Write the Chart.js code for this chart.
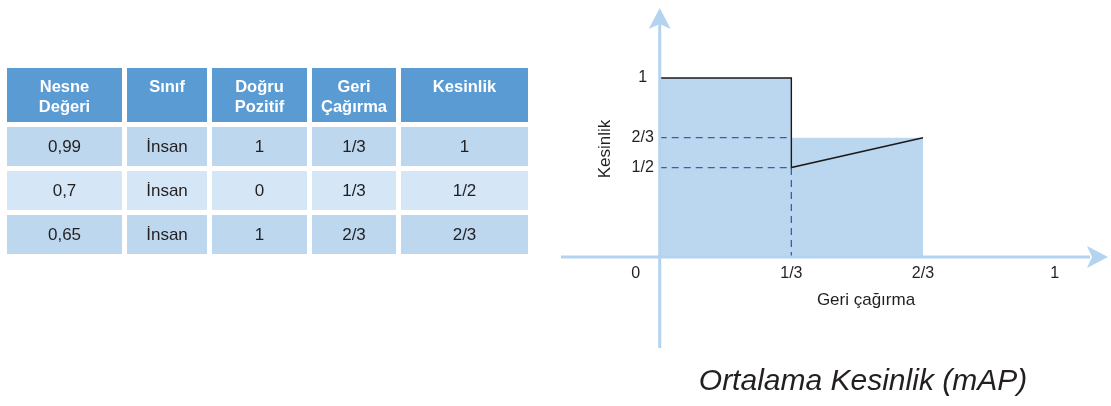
<!DOCTYPE html>
<html>
<head>
<meta charset="utf-8">
<script src="https://cdn.jsdelivr.net/npm/chart.js@4"></script>
<style>
  html, body { margin: 0; padding: 0; background: #fff; }
  #wrap { position: relative; width: 1111px; height: 406px; overflow: hidden; }
  #myChart { position: absolute; left: 0; top: 0; }
  table {
    position: absolute; left: 2px; top: 63px;
    border-collapse: separate; border-spacing: 5px 5px;
    font-family: "Liberation Sans", Arial, sans-serif;
  }
  th {
    background: #5b9bd4; color: #fff; font-weight: bold; font-size: 16.5px;
    line-height: 20px; height: 54px; padding: 8px 0 0 0; box-sizing: border-box;
    vertical-align: top; text-align: center;
  }
  td {
    font-size: 17px; color: #231f20; text-align: center; height: 39px; padding: 0;
  }
  tr.odd td { background: #bdd7ee; }
  tr.even td { background: #d5e7f6; }
</style>
</head>
<body>
<div id="wrap">
  <canvas id="myChart" width="1111" height="406"></canvas>
  <table id="tbl"></table>
</div>
<script>
const headers = ["Nesne<br>Değeri", "Sınıf", "Doğru<br>Pozitif", "Geri<br>Çağırma", "Kesinlik"];
const colWidths = [115, 80, 95, 84, 127];
const scores = ["0,99", "0,7", "0,65"];
const classes = ["İnsan", "İnsan", "İnsan"];
const truePositive = [1, 0, 1];
const recallLabels = ["1/3", "1/3", "2/3"];
const precisionLabels = ["1", "1/2", "2/3"];

const recall = [1 / 3, 1 / 3, 2 / 3];
const precision = [1, 1 / 2, 2 / 3];
const interpPrecision = [1, 2 / 3, 2 / 3];

const xTickValues = [0, 1 / 3, 2 / 3, 1];
const xTickLabels = ["0", "1/3", "2/3", "1"];
const yTickValues = [1, 2 / 3, 1 / 2];
const yTickLabels = ["1", "2/3", "1/2"];

// table
const tbl = document.getElementById("tbl");
let html = "<tr>";
headers.forEach((h, i) => {
  html += `<th style="width:${colWidths[i]}px">${h}</th>`;
});
html += "</tr>";
scores.forEach((s, i) => {
  html += `<tr class="${i % 2 === 0 ? "odd" : "even"}">`;
  html += `<td>${s}</td><td>${classes[i]}</td><td>${truePositive[i]}</td>`;
  html += `<td>${recallLabels[i]}</td><td>${precisionLabels[i]}</td></tr>`;
});
tbl.innerHTML = html;

// curve points
const curve = [{ x: 0, y: precision[0] }].concat(
  recall.map((r, i) => ({ x: r, y: precision[i] }))
);
const area = [{ x: 0, y: interpPrecision[0] }].concat(
  recall.map((r, i) => ({ x: r, y: interpPrecision[i] }))
);
const guides = [
  { x: 0, y: interpPrecision[1] },
  { x: recall[1], y: interpPrecision[1] },
  { x: recall[1], y: null },
  { x: 0, y: precision[1] },
  { x: recall[1], y: precision[1] },
  { x: recall[1], y: 0 },
];

const AXIS_COLOR = "#b3d3f1";
const FONT = "'Liberation Sans', Arial, sans-serif";

const axesPlugin = {
  id: "axes",
  afterDatasetsDraw(chart) {
    const { ctx, chartArea, scales } = chart;
    const x0 = scales.x.getPixelForValue(0);
    const y0 = scales.y.getPixelForValue(0);
    ctx.save();
    ctx.strokeStyle = AXIS_COLOR;
    ctx.fillStyle = AXIS_COLOR;
    ctx.lineWidth = 3;
    ctx.beginPath();
    ctx.moveTo(x0, chartArea.bottom);
    ctx.lineTo(x0, chartArea.top + 12);
    ctx.moveTo(chartArea.left, y0);
    ctx.lineTo(chartArea.right - 12, y0);
    ctx.stroke();
    // arrow up
    ctx.beginPath();
    ctx.moveTo(x0, chartArea.top - 2);
    ctx.lineTo(x0 + 11, chartArea.top + 19);
    ctx.lineTo(x0, chartArea.top + 14);
    ctx.lineTo(x0 - 11, chartArea.top + 19);
    ctx.closePath();
    ctx.fill();
    // arrow right
    const xr = chartArea.right + 6;
    ctx.beginPath();
    ctx.moveTo(xr, y0);
    ctx.lineTo(xr - 21, y0 - 11);
    ctx.lineTo(xr - 16, y0);
    ctx.lineTo(xr - 21, y0 + 11);
    ctx.closePath();
    ctx.fill();

    // tick labels
    ctx.fillStyle = "#231f20";
    ctx.font = "16px " + FONT;
    ctx.textAlign = "center";
    ctx.textBaseline = "middle";
    xTickValues.forEach((v, i) => {
      let px = scales.x.getPixelForValue(v);
      if (v === 0) px -= 24;
      ctx.fillText(xTickLabels[i], px, y0 + 17);
    });
    yTickValues.forEach((v, i) => {
      ctx.fillText(yTickLabels[i], x0 - 17, scales.y.getPixelForValue(v));
    });

    // axis titles
    ctx.font = "17px " + FONT;
    ctx.fillText("Geri çağırma", 866, y0 + 43);
    ctx.save();
    ctx.translate(605, 149);
    ctx.rotate(-Math.PI / 2);
    ctx.fillText("Kesinlik", 0, 0);
    ctx.restore();

    // title
    ctx.font = "italic 30px " + FONT;
    ctx.textBaseline = "alphabetic";
    ctx.fillText("Ortalama Kesinlik (mAP)", 863, 390);
    ctx.restore();
  },
};

const ctx = document.getElementById("myChart");

new Chart(ctx, {
  type: "line",
  data: {
    datasets: [
      {
        label: "Enterpolasyonlu kesinlik",
        data: area,
        order: 3,
        fill: "origin",
        backgroundColor: "#bbd7f0",
        borderWidth: 0,
        pointRadius: 0,
        tension: 0,
      },
      {
        label: "Rehber",
        data: guides,
        order: 2,
        fill: false,
        borderColor: "#3a5eab",
        borderWidth: 1.3,
        borderDash: [7, 5],
        pointRadius: 0,
        spanGaps: false,
        tension: 0,
      },
      {
        label: "Kesinlik",
        data: curve,
        order: 1,
        fill: false,
        borderColor: "#1a1a1a",
        borderWidth: 1.4,
        pointRadius: 0,
        tension: 0,
      },
    ],
  },
  options: {
    responsive: false,
    animation: false,
    layout: { padding: { left: 561, right: 9, top: 10, bottom: 58 } },
    plugins: {
      legend: { display: false },
      tooltip: { enabled: false },
    },
    scales: {
      x: { type: "linear", min: -0.25, max: 1.12, display: false },
      y: { type: "linear", min: -0.508, max: 1.38, display: false },
    },
  },
  plugins: [axesPlugin],
});
</script>
</body>
</html>
